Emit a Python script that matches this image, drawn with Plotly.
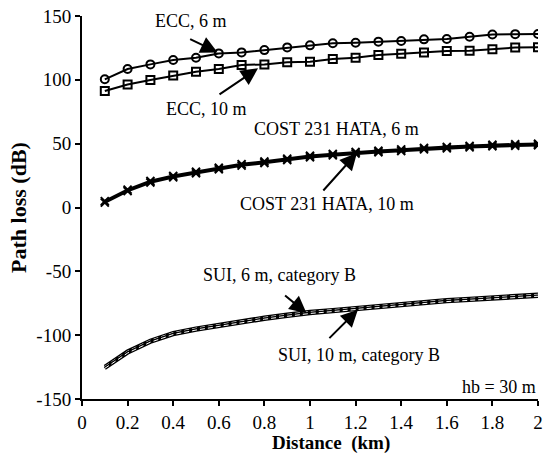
import plotly.graph_objects as go

distance_km = [0.1, 0.2, 0.3, 0.4, 0.5, 0.6, 0.7, 0.8, 0.9, 1.0,
               1.1, 1.2, 1.3, 1.4, 1.5, 1.6, 1.7, 1.8, 1.9, 2.0]

ecc_6m = [100.4, 108.5, 112.1, 115.5, 117.3, 120.7, 121.5, 123.3, 125.4, 127.0,
          128.6, 129.1, 129.9, 130.4, 131.7, 132.0, 133.8, 135.5, 135.8, 135.9]
ecc_10m = [91.2, 96.4, 99.8, 103.3, 106.4, 108.5, 111.6, 112.1, 113.7, 114.2,
           116.3, 117.3, 119.4, 120.5, 121.5, 122.6, 122.8, 123.9, 125.3, 125.5]
hata_6m = [5.0, 14.0, 20.8, 24.8, 28.0, 31.2, 34.0, 36.0, 38.3, 40.5,
           42.0, 43.5, 44.5, 45.5, 46.7, 47.5, 48.3, 49.2, 49.6, 50.0]
hata_10m = [3.8, 12.8, 19.6, 23.6, 26.8, 30.0, 32.8, 34.8, 37.1, 39.3,
            40.8, 42.3, 43.3, 44.3, 45.5, 46.3, 47.1, 48.0, 48.4, 48.8]
sui_6m = [-124.5, -112.5, -104.0, -98.0, -94.5, -91.5, -88.5, -86.0, -83.7, -81.5,
          -80.0, -78.5, -76.7, -75.0, -73.7, -72.2, -71.2, -70.2, -69.2, -68.0]
sui_10m = [-126.0, -114.0, -105.5, -99.5, -96.0, -93.0, -90.0, -87.5, -85.2, -83.0,
           -81.5, -80.0, -78.2, -76.5, -75.2, -73.7, -72.7, -71.7, -70.7, -69.5]

x_ticks = [0, 0.2, 0.4, 0.6, 0.8, 1, 1.2, 1.4, 1.6, 1.8, 2]
x_tick_text = ["0", "0.2", "0.4", "0.6", "0.8", "1", "1.2", "1.4", "1.6", "1.8", "2"]
y_ticks = [-150, -100, -50, 0, 50, 100, 150]
y_tick_text = ["-150", "-100", "-50", "0", "50", "100", "150"]

FONT = "Liberation Serif, Times New Roman, serif"

fig = go.Figure()

fig.add_trace(go.Scatter(x=distance_km, y=ecc_6m, mode="lines+markers",
                         line=dict(color="black", width=2),
                         marker=dict(symbol="circle-open", size=8, color="black",
                                     line=dict(width=2)), name="ECC, 6 m"))
fig.add_trace(go.Scatter(x=distance_km, y=ecc_10m, mode="lines+markers",
                         line=dict(color="black", width=2),
                         marker=dict(symbol="square-open", size=8, color="black",
                                     line=dict(width=2)), name="ECC, 10 m"))
for vals, nm in [(hata_6m, "COST 231 HATA, 6 m"), (hata_10m, "COST 231 HATA, 10 m")]:
    fig.add_trace(go.Scatter(x=distance_km, y=vals, mode="lines+markers",
                             line=dict(color="black", width=2.5),
                             marker=dict(symbol="x-thin", size=8, color="black",
                                         line=dict(width=2, color="black")), name=nm))
for vals, nm in [(sui_6m, "SUI, 6 m, category B"), (sui_10m, "SUI, 10 m, category B")]:
    fig.add_trace(go.Scatter(x=distance_km, y=vals, mode="lines",
                             line=dict(color="black", width=3.5), name=nm))
    fig.add_trace(go.Scatter(x=distance_km, y=vals, mode="lines",
                             line=dict(color="white", width=1, dash="5px,3px"),
                             name=nm, showlegend=False, hoverinfo="skip"))

texts = [
    ("ECC, 6 m", 0.478, 146.0, "center"),
    ("ECC, 10 m", 0.545, 77.0, "center"),
    ("COST 231 HATA, 6 m", 1.116, 61.5, "center"),
    ("COST 231 HATA, 10 m", 1.075, 2.7, "center"),
    ("SUI, 6 m, category B", 0.868, -52.9, "center"),
    ("SUI, 10 m, category B", 1.215, -115.5, "center"),
    ("hb = 30 m", 2.0, -140.6, "right"),
]
annotations = []
for t, x, y, xa in texts:
    annotations.append(dict(text=t, x=x, y=y, xref="x", yref="y", showarrow=False,
                            xanchor=xa, yanchor="middle",
                            font=dict(family=FONT, size=18, color="black")))

arrows = [
    (0.595, 121.5, -29, -14),
    (0.772, 109.0, -40, 27),
    (1.206, 42.7, -35, 39),
    (0.985, -82.8, -23, -19),
    (1.21, -80.0, -30, 30),
]
for x, y, ax, ay in arrows:
    annotations.append(dict(text="", x=x, y=y, xref="x", yref="y", ax=ax, ay=ay,
                            showarrow=True, arrowhead=2, arrowsize=1.7, arrowwidth=2,
                            arrowcolor="black", standoff=0))

# x-axis title placed as a paper annotation to match the reference position
annotations.append(dict(text="<b>Distance&nbsp; (km)</b>", x=0.545, y=-0.116,
                        xref="paper", yref="paper", showarrow=False,
                        xanchor="center", yanchor="middle",
                        font=dict(family=FONT, size=19, color="black")))

fig.update_layout(
    width=546, height=455,
    margin=dict(l=82, r=8, t=16, b=56),
    paper_bgcolor="white", plot_bgcolor="white",
    showlegend=False,
    font=dict(family=FONT, size=19, color="black"),
    annotations=annotations,
    xaxis=dict(range=[0, 2], tickvals=x_ticks, ticktext=x_tick_text, automargin=False,
               showgrid=False, zeroline=False, showline=True, linecolor="black",
               linewidth=2, ticks="outside", ticklen=5, tickwidth=2, tickcolor="black",
               tickfont=dict(family=FONT, size=19)),
    yaxis=dict(range=[-150, 150], tickvals=y_ticks, ticktext=y_tick_text, automargin=False,
               showgrid=False, zeroline=False, showline=True, linecolor="black",
               linewidth=2, ticks="outside", ticklen=5, tickwidth=2, tickcolor="black",
               tickfont=dict(family=FONT, size=19),
               title=dict(text="<b>Path loss (dB)</b>", font=dict(family=FONT, size=22),
                          standoff=4)),
)

fig.write_html("out.html")
